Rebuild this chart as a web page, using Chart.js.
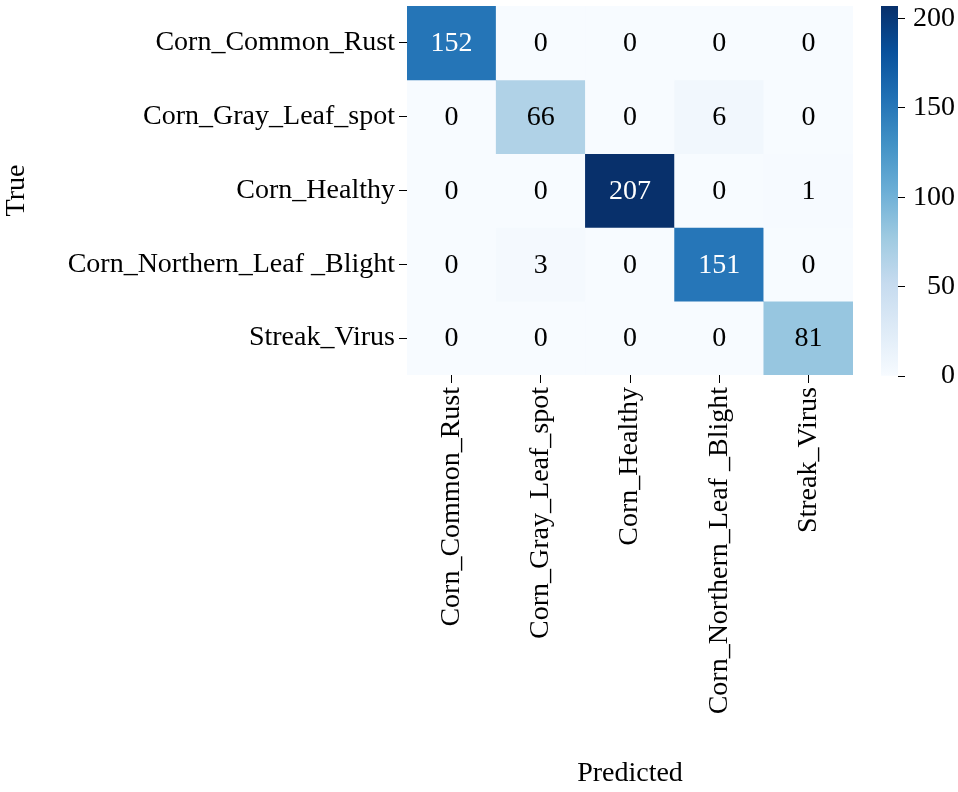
<!DOCTYPE html>
<html>
<head>
<meta charset="utf-8">
<script src="https://cdn.jsdelivr.net/npm/chart.js@4.4.0/dist/chart.umd.min.js"></script>
<style>
  body { margin: 0; background: #fff; }
  #wrap { position: relative; width: 958px; height: 792px; }
  #heat { position: absolute; left: 0; top: 0; }
  #cbar { position: absolute; left: 860px; top: 0; }
</style>
</head>
<body>
<div id="wrap">
  <canvas id="heat" width="870" height="792"></canvas>
  <canvas id="cbar" width="98" height="792"></canvas>
</div>
<script>
const clases = ['Corn_Common_Rust', 'Corn_Gray_Leaf_spot', 'Corn_Healthy', 'Corn_Northern_Leaf _Blight', 'Streak_Virus'];
const fila0 = [152, 0, 0, 0, 0];
const fila1 = [0, 66, 0, 6, 0];
const fila2 = [0, 0, 207, 0, 1];
const fila3 = [0, 3, 0, 151, 0];
const fila4 = [0, 0, 0, 0, 81];
const matriz = [fila0, fila1, fila2, fila3, fila4];
const vmax = 207;
const cbTicks = [0, 50, 100, 150, 200];

const FUENTE = '"Liberation Serif", "DejaVu Serif", serif';
const TAM = 28;
Chart.defaults.font.family = FUENTE;
Chart.defaults.color = '#000';

// matplotlib Blues
const blues = ['#f7fbff', '#deebf7', '#c6dbef', '#9ecae1', '#6baed6', '#4292c6', '#2171b5', '#08519c', '#08306b'];
function hexRgb(h) { return [1, 3, 5].map(i => parseInt(h.substr(i, 2), 16)); }
function colorMapa(t) {
    t = Math.max(0, Math.min(1, t));
    const p = t * (blues.length - 1);
    const i = Math.min(Math.floor(p), blues.length - 2);
    const f = p - i;
    const a = hexRgb(blues[i]), b = hexRgb(blues[i + 1]);
    return a.map((c, k) => Math.round(c + (b[k] - c) * f));
}
function rgbStr(c) { return `rgb(${c[0]},${c[1]},${c[2]})`; }
function luminancia(c) {
    const l = c.map(v => { v /= 255; return v <= 0.03928 ? v / 12.92 : Math.pow((v + 0.055) / 1.055, 2.4); });
    return 0.2126 * l[0] + 0.7152 * l[1] + 0.0722 * l[2];
}

const datasets = matriz.map((fila, i) => ({
    label: clases[i],
    data: fila.map(() => [i, i + 1]),
    valores: fila,
    backgroundColor: fila.map(v => rgbStr(colorMapa(v / vmax))),
    borderWidth: 0,
    barPercentage: 1,
    categoryPercentage: 1,
    grouped: false
}));

const textoCeldas = {
    id: 'textoCeldas',
    afterDatasetsDraw(chart) {
        const ctx = chart.ctx;
        ctx.save();
        ctx.font = TAM + 'px ' + FUENTE;
        ctx.textAlign = 'center';
        ctx.textBaseline = 'middle';
        chart.data.datasets.forEach((ds, i) => {
            chart.getDatasetMeta(i).data.forEach((el, j) => {
                const v = ds.valores[j];
                const c = colorMapa(v / vmax);
                ctx.fillStyle = luminancia(c) > 0.408 ? '#000' : '#fff';
                ctx.fillText(String(v), el.x, (el.y + el.base) / 2 + 1);
            });
        });
        ctx.restore();
    }
};

new Chart(document.getElementById('heat'), {
    type: 'bar',
    data: { labels: clases, datasets: datasets },
    plugins: [textoCeldas],
    options: {
        responsive: false,
        animation: false,
        layout: { padding: { top: 6, right: 17, left: 0, bottom: 0 } },
        plugins: { legend: { display: false }, tooltip: { enabled: false } },
        scales: {
            x: {
                grid: { display: true, drawOnChartArea: false, offset: false, tickLength: 8, color: '#000', tickWidth: 1 },
                border: { display: false },
                ticks: { maxRotation: 90, minRotation: 90, padding: 4, font: { size: TAM } },
                title: { display: true, text: 'Predicted', font: { size: TAM }, padding: { top: 0, bottom: 2 } },
                afterFit(s) { s.height = 792 - 375; s.paddingLeft = 0; s.paddingRight = 0; }
            },
            y: {
                type: 'linear',
                min: 0,
                max: 5,
                reverse: true,
                afterBuildTicks(s) { s.ticks = clases.map((_, i) => ({ value: i + 0.5 })); },
                grid: { display: true, drawOnChartArea: false, tickLength: 8, color: '#000' },
                border: { display: false },
                ticks: { padding: 4, font: { size: TAM }, callback: v => clases[Math.floor(v)] },
                title: { display: true, text: 'True', font: { size: TAM }, padding: { top: 0, bottom: 0 } },
                afterFit(s) { s.width = 407; s.paddingTop = 0; s.paddingBottom = 0; }
            }
        }
    }
});

// barra de color
new Chart(document.getElementById('cbar'), {
    type: 'bar',
    data: {
        labels: [''],
        datasets: [{
            data: [[0, vmax]],
            borderWidth: 0,
            barPercentage: 1,
            categoryPercentage: 1,
            backgroundColor(ctx) {
                const a = ctx.chart.chartArea;
                if (!a) return blues[4];
                const g = ctx.chart.ctx.createLinearGradient(0, a.bottom, 0, a.top);
                blues.forEach((c, i) => g.addColorStop(i / (blues.length - 1), c));
                return g;
            }
        }]
    },
    options: {
        responsive: false,
        animation: false,
        layout: { padding: { top: 6, left: 21, right: 3, bottom: 792 - 376 } },
        plugins: { legend: { display: false }, tooltip: { enabled: false } },
        scales: {
            x: { display: false },
            y: {
                position: 'right',
                min: 0,
                max: vmax,
                afterBuildTicks(s) { s.ticks = cbTicks.map(v => ({ value: v })); },
                grid: { display: true, drawOnChartArea: false, tickLength: 7, color: '#000' },
                border: { display: false },
                ticks: { padding: 4, font: { size: TAM }, crossAlign: 'far' },
                afterFit(s) { s.width = 57; s.paddingTop = 0; s.paddingBottom = 0; }
            }
        }
    }
});
</script>
</body>
</html>
